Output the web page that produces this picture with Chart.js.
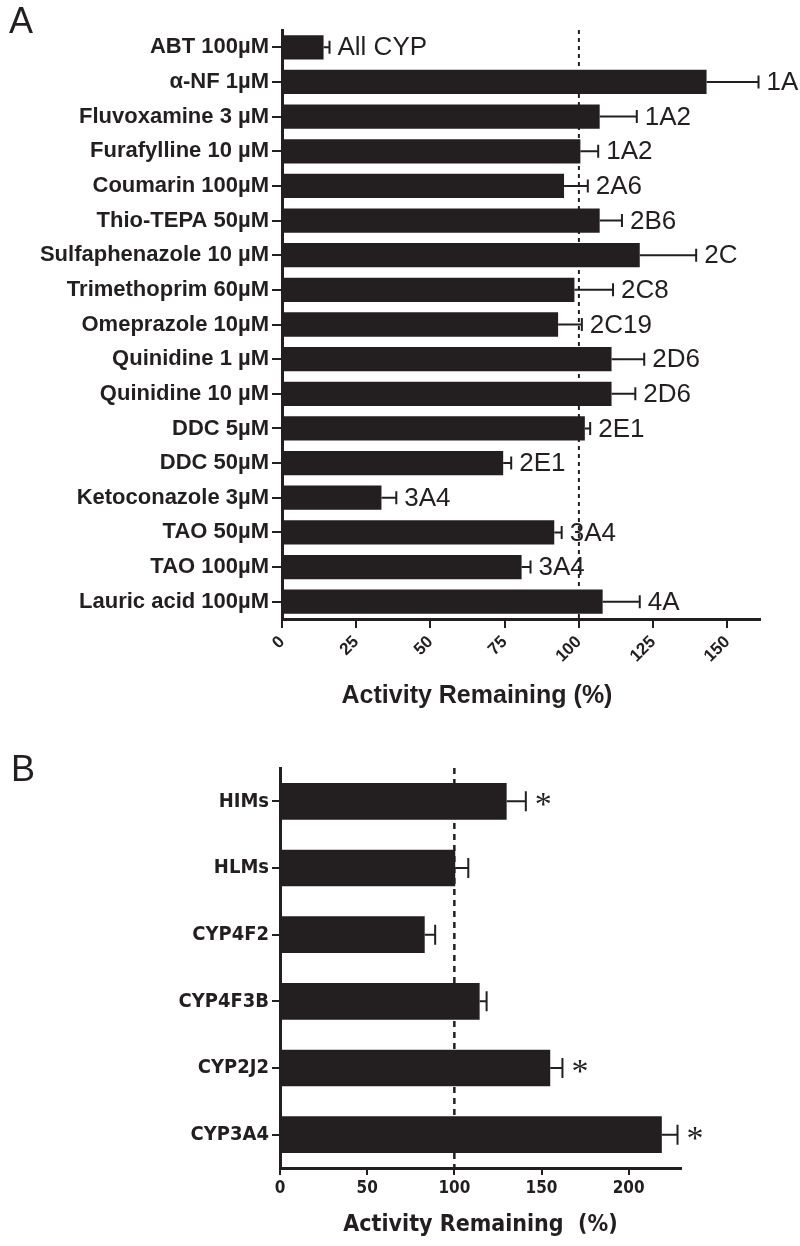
<!DOCTYPE html>
<html>
<head>
<meta charset="utf-8">
<script src="https://cdn.jsdelivr.net/npm/chart.js@4.4.0/dist/chart.umd.min.js"></script>
<style>
body { margin: 0; background: #fff; }
#wrap { position: relative; width: 800px; height: 1246px; }
.panel { position: absolute; left: 0; width: 800px; }
.letter { position: absolute; font-family: "Liberation Sans", Arial, sans-serif; font-size: 36px; color: #231f20; line-height: 1; }
</style>
</head>
<body>
<div id="wrap">
  <div class="panel" style="top:0;height:720px"><canvas id="chartA"></canvas></div>
  <div class="panel" style="top:720px;height:526px"><canvas id="chartB"></canvas></div>
  <div class="letter" style="left:9px;top:3px">A</div>
  <div class="letter" style="left:11px;top:751px">B</div>
</div>
<script>
// panel A - chemical inhibitors
const inhibitorLabels = ['ABT 100µM', 'α-NF 1µM', 'Fluvoxamine 3 µM', 'Furafylline 10 µM', 'Coumarin 100µM',
  'Thio-TEPA 50µM', 'Sulfaphenazole 10 µM', 'Trimethoprim 60µM', 'Omeprazole 10µM', 'Quinidine 1 µM',
  'Quinidine 10 µM', 'DDC 5µM', 'DDC 50µM', 'Ketoconazole 3µM', 'TAO 50µM', 'TAO 100µM', 'Lauric acid 100µM'];
const inhibitorActivity = [14, 143, 107, 100.5, 95, 107, 120.5, 98.5, 93, 111, 111, 102, 74.5, 33.5, 91.7, 80.7, 108];
const inhibitorSem = [2, 17.5, 12.5, 6, 8, 7.5, 19, 13, 8, 11, 8, 1.8, 2.7, 5, 2.5, 3, 12.5];
const cypTargets = ['All CYP', '1A', '1A2', '1A2', '2A6', '2B6', '2C', '2C8', '2C19', '2D6', '2D6', '2E1', '2E1',
  '3A4', '3A4', '3A4', '4A'];
const xTicksA = [0, 25, 50, 75, 100, 125, 150];

// panel B - enzyme sources
const systemLabels = ['HIMs', 'HLMs', 'CYP4F2', 'CYP4F3B', 'CYP2J2', 'CYP3A4'];
const systemActivity = [130, 100.5, 83, 114.5, 155, 219];
const systemSem = [11, 7.5, 6, 4, 7, 9];
const systemMarks = ['*', '', '', '', '*', '*'];
const xTicksB = [0, 50, 100, 150, 200];

const refLevel = 100;
const ink = '#231f20';
const sans = '"Liberation Sans", Arial, sans-serif';
const narrow = '"DejaVu Sans Condensed", "Liberation Sans Narrow", Arial, sans-serif';

// error bars, dotted 100% line, the text after each bar
function overlay(errs, notes, o) {
  return {
    id: 'overlay',
    afterDatasetsDraw(chart) {
      const {ctx, chartArea, scales: {x}} = chart;
      const vals = chart.data.datasets[0].data;
      const meta = chart.getDatasetMeta(0);
      ctx.save();
      const rx = x.getPixelForValue(refLevel);
      ctx.strokeStyle = ink;
      ctx.lineWidth = o.dashWidth;
      ctx.setLineDash(o.dash);
      ctx.beginPath();
      ctx.moveTo(rx, chartArea.top);
      ctx.lineTo(rx, chartArea.bottom);
      ctx.stroke();
      ctx.setLineDash([]);

      ctx.lineWidth = 2;
      ctx.fillStyle = ink;
      meta.data.forEach((bar, i) => {
        const y = bar.y;
        const x0 = x.getPixelForValue(vals[i]);
        const x1 = x.getPixelForValue(vals[i] + errs[i]);
        ctx.beginPath();
        ctx.moveTo(x0, y);
        ctx.lineTo(x1, y);
        ctx.moveTo(x1, y - o.cap);
        ctx.lineTo(x1, y + o.cap);
        ctx.stroke();
        if (notes[i]) {
          ctx.font = o.noteFont;
          ctx.textAlign = 'left';
          ctx.textBaseline = 'middle';
          ctx.fillText(notes[i], x1 + o.gap, y + o.noteShift);
        }
      });

      // axis title placed off-centre like the original figure
      if (o.title) {
        ctx.font = o.title.font;
        ctx.textAlign = 'center';
        ctx.textBaseline = 'alphabetic';
        ctx.fillText(o.title.text, chartArea.left + o.title.dx, chartArea.bottom + o.title.dy);
      }
      ctx.restore();
    }
  };
}

function fixedBox(w, h) {
  return s => {
    if (w) s.width = w;
    if (h) s.height = h;
  };
}

new Chart(document.getElementById('chartA'), {
  type: 'bar',
  data: {
    labels: inhibitorLabels,
    datasets: [{
      data: inhibitorActivity,
      backgroundColor: ink,
      borderWidth: 0,
      barPercentage: 0.7,
      categoryPercentage: 1
    }]
  },
  options: {
    indexAxis: 'y',
    responsive: true,
    maintainAspectRatio: false,
    animation: false,
    layout: { padding: { top: 30, right: 40, bottom: 0, left: 0 } },
    plugins: { legend: { display: false }, tooltip: { enabled: false } },
    scales: {
      x: {
        min: 0,
        max: 161,
        afterBuildTicks: s => { s.ticks = xTicksA.map(v => ({ value: v })); },
        afterFit: fixedBox(0, 101),
        ticks: {
          minRotation: 45, maxRotation: 45, padding: 4, color: ink,
          font: { family: sans, size: 17, weight: 'bold' }
        },
        grid: { drawOnChartArea: false, drawTicks: true, tickLength: 9, color: ink, lineWidth: 2 },
        border: { display: true, color: ink, width: 3 }
      },
      y: {
        afterFit: fixedBox(282, 0),
        ticks: { padding: 3, color: ink, font: { family: sans, size: 22, weight: 'bold' } },
        grid: { offset: false, drawOnChartArea: false, drawTicks: true, tickLength: 10, color: ink, lineWidth: 2 },
        border: { display: true, color: ink, width: 3 }
      }
    }
  },
  plugins: [overlay(inhibitorSem, cypTargets, {
    dash: [4, 4], dashWidth: 2, cap: 6.5, gap: 8, noteShift: 1,
    noteFont: '26px ' + sans,
    title: { text: 'Activity Remaining (%)', font: 'bold 25px ' + sans, dx: 195, dy: 84 }
  })]
});

new Chart(document.getElementById('chartB'), {
  type: 'bar',
  data: {
    labels: systemLabels,
    datasets: [{
      data: systemActivity,
      backgroundColor: ink,
      borderWidth: 0,
      barPercentage: 0.55,
      categoryPercentage: 1
    }]
  },
  options: {
    indexAxis: 'y',
    responsive: true,
    maintainAspectRatio: false,
    animation: false,
    layout: { padding: { top: 48, right: 119, bottom: 0, left: 0 } },
    plugins: { legend: { display: false }, tooltip: { enabled: false } },
    scales: {
      x: {
        min: 0,
        max: 230,
        afterBuildTicks: s => { s.ticks = xTicksB.map(v => ({ value: v })); },
        afterFit: fixedBox(0, 78),
        ticks: { maxRotation: 0, padding: 3, color: ink, font: { family: narrow, size: 17, weight: 'bold' } },
        grid: { drawOnChartArea: false, drawTicks: true, tickLength: 7, color: ink, lineWidth: 2 },
        border: { display: true, color: ink, width: 3 },
        title: {
          display: true, text: 'Activity Remaining  (%)', color: ink,
          font: { family: narrow, size: 23, weight: 'bold' }, padding: { top: 0, bottom: 7 }
        }
      },
      y: {
        afterFit: fixedBox(280, 0),
        ticks: { padding: 3, color: ink, font: { family: narrow, size: 20, weight: 'bold' } },
        grid: { offset: false, drawOnChartArea: false, drawTicks: true, tickLength: 8, color: ink, lineWidth: 2 },
        border: { display: true, color: ink, width: 3 }
      }
    }
  },
  plugins: [overlay(systemSem, systemMarks, {
    dash: [6, 5], dashWidth: 2.5, cap: 10, gap: 9, noteShift: 5,
    noteFont: '34px "Liberation Serif", serif'
  })]
});
</script>
</body>
</html>
